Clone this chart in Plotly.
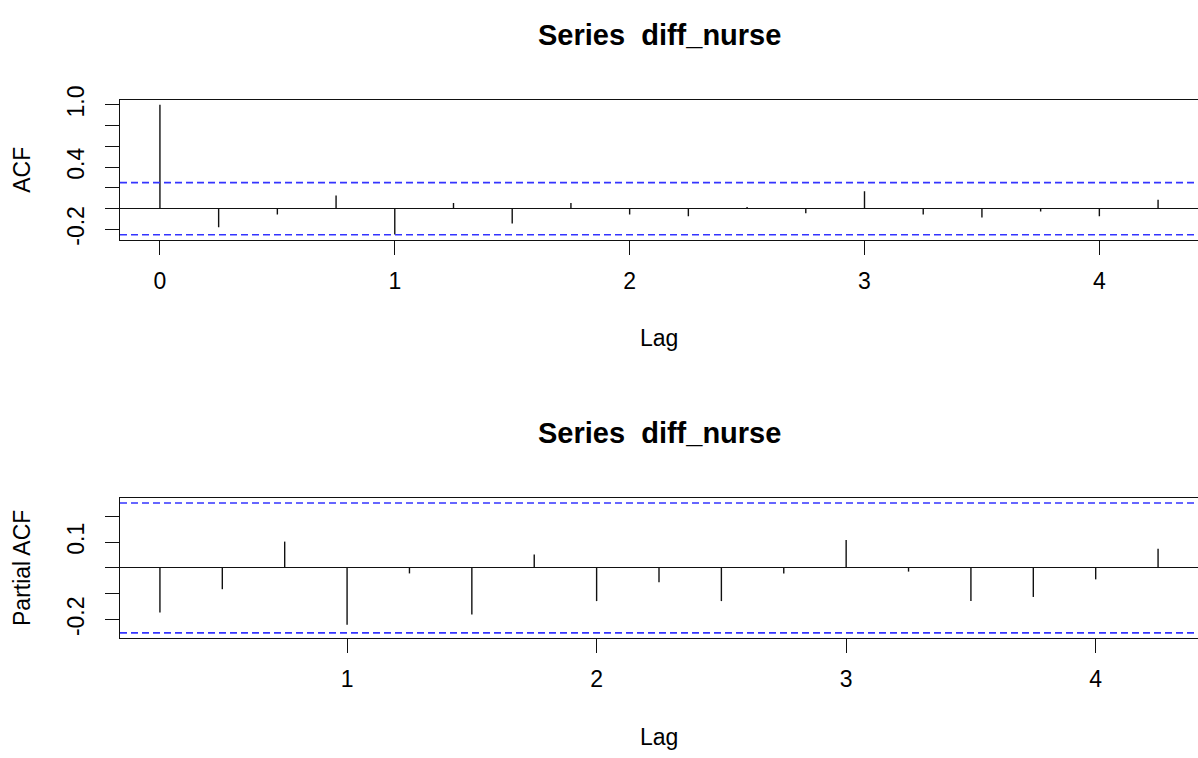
import plotly.graph_objects as go

# ACF / PACF of the differenced nurse series (quarterly, lags in years)
acf_lags = [0.0, 0.25, 0.5, 0.75, 1.0, 1.25, 1.5, 1.75, 2.0, 2.25, 2.5,
            2.75, 3.0, 3.25, 3.5, 3.75, 4.0, 4.25]
acf_vals = [1.0, -0.18, -0.057, 0.126, -0.25, 0.054, -0.142, 0.054, -0.057,
            -0.073, 0.016, -0.044, 0.167, -0.057, -0.085, -0.028, -0.073, 0.085]

pacf_lags = [0.25, 0.5, 0.75, 1.0, 1.25, 1.5, 1.75, 2.0, 2.25, 2.5, 2.75,
             3.0, 3.25, 3.5, 3.75, 4.0, 4.25]
pacf_vals = [-0.172, -0.082, 0.102, -0.219, -0.021, -0.18, 0.052, -0.128,
             -0.055, -0.128, -0.021, 0.108, -0.014, -0.128, -0.112, -0.044, 0.074]

conf_limit = 0.251  # 1.96 / sqrt(n)

acf_yticks = [-0.2, 0.0, 0.2, 0.4, 0.6, 0.8, 1.0]
acf_yticktext = ["-0.2", "", "", "0.4", "", "", "1.0"]
pacf_yticks = [-0.2, -0.1, 0.0, 0.1, 0.2]
pacf_yticktext = ["-0.2", "", "", "0.1", ""]
acf_xticks = [0, 1, 2, 3, 4]
pacf_xticks = [1, 2, 3, 4]

title_text = "Series  diff_nurse"

W, H = 1198, 758
FONT = "Liberation Sans, Arial, sans-serif"
TICK_SIZE = 23
LAB_SIZE = 23
TITLE_SIZE = 29


def spikes(lags, vals):
    xs, ys = [], []
    for l, v in zip(lags, vals):
        xs += [l, l, None]
        ys += [0, v, None]
    return xs, ys


fig = go.Figure()
ax, ay = spikes(acf_lags, acf_vals)
fig.add_trace(go.Scatter(x=ax, y=ay, mode="lines", xaxis="x", yaxis="y",
                         line=dict(color="#111111", width=1.4),
                         hoverinfo="skip", showlegend=False))
px_, py_ = spikes(pacf_lags, pacf_vals)
fig.add_trace(go.Scatter(x=px_, y=py_, mode="lines", xaxis="x2", yaxis="y2",
                         line=dict(color="#111111", width=1.4),
                         hoverinfo="skip", showlegend=False))

# significance bounds
shapes = []
for xr, yr in (("x", "y"), ("x2", "y2")):
    for s in (1, -1):
        shapes.append(dict(type="line", xref=f"{xr} domain", yref=yr,
                           x0=0, x1=1, y0=s * conf_limit, y1=s * conf_limit,
                           line=dict(color="#3434ff", width=1.6, dash="7px,4px")))


def pix_y(py):
    return 1 - py / H


left = 120 / W
xaxis_common = dict(showline=True, mirror=True, linecolor="#111111", linewidth=1.4,
                    ticks="outside", ticklen=14, tickwidth=1.4, tickcolor="#111111",
                    showgrid=False, zeroline=False,
                    tickfont=dict(family=FONT, size=TICK_SIZE, color="black"),
                    ticklabelstandoff=6)
yaxis_common = dict(showline=True, mirror=False, linecolor="#111111", linewidth=1.4,
                    ticks="outside", ticklen=14, tickwidth=1.4, tickcolor="#111111",
                    showgrid=False, zeroline=True, zerolinecolor="#111111",
                    zerolinewidth=1.4, tickangle=-90,
                    tickfont=dict(family=FONT, size=TICK_SIZE, color="black"),
                    ticklabelstandoff=12)

fig.update_layout(
    width=W, height=H, margin=dict(l=0, r=0, t=0, b=0),
    paper_bgcolor="white", plot_bgcolor="white",
    font=dict(family=FONT, color="black"),
    shapes=shapes,
    xaxis=dict(domain=[left, 1], range=[-0.17, 4.42], anchor="y",
               tickvals=acf_xticks, **xaxis_common),
    yaxis=dict(domain=[pix_y(232), pix_y(88)], range=[-0.301, 1.05], anchor="x",
               tickvals=acf_yticks, ticktext=acf_yticktext, **yaxis_common),
    xaxis2=dict(domain=[left, 1], range=[0.09, 4.41], anchor="y2",
                tickvals=pacf_xticks, **xaxis_common),
    yaxis2=dict(domain=[pix_y(641), pix_y(497)], range=[-0.271, 0.271], anchor="x2",
                tickvals=pacf_yticks, ticktext=pacf_yticktext, **yaxis_common),
)

cx = (120 + 1198) / 2 / W
ann = []
for ty in (22, 430):
    ann.append(dict(text=f"<b>{title_text}</b>", x=cx, y=pix_y(ty), xref="paper",
                    yref="paper", showarrow=False, xanchor="center", yanchor="middle",
                    font=dict(family=FONT, size=TITLE_SIZE, color="black")))
for ty in (333, 743):
    ann.append(dict(text="Lag", x=cx, y=pix_y(ty), xref="paper", yref="paper",
                    showarrow=False, xanchor="center", yanchor="middle",
                    font=dict(family=FONT, size=LAB_SIZE, color="black")))
for txt, ty in (("ACF", 160), ("Partial ACF", 569)):
    ann.append(dict(text=txt, x=22 / W, y=pix_y(ty), xref="paper", yref="paper",
                    showarrow=False, xanchor="center", yanchor="middle", textangle=-90,
                    font=dict(family=FONT, size=LAB_SIZE, color="black")))
fig.update_layout(annotations=ann)

fig.write_html("out.html")
